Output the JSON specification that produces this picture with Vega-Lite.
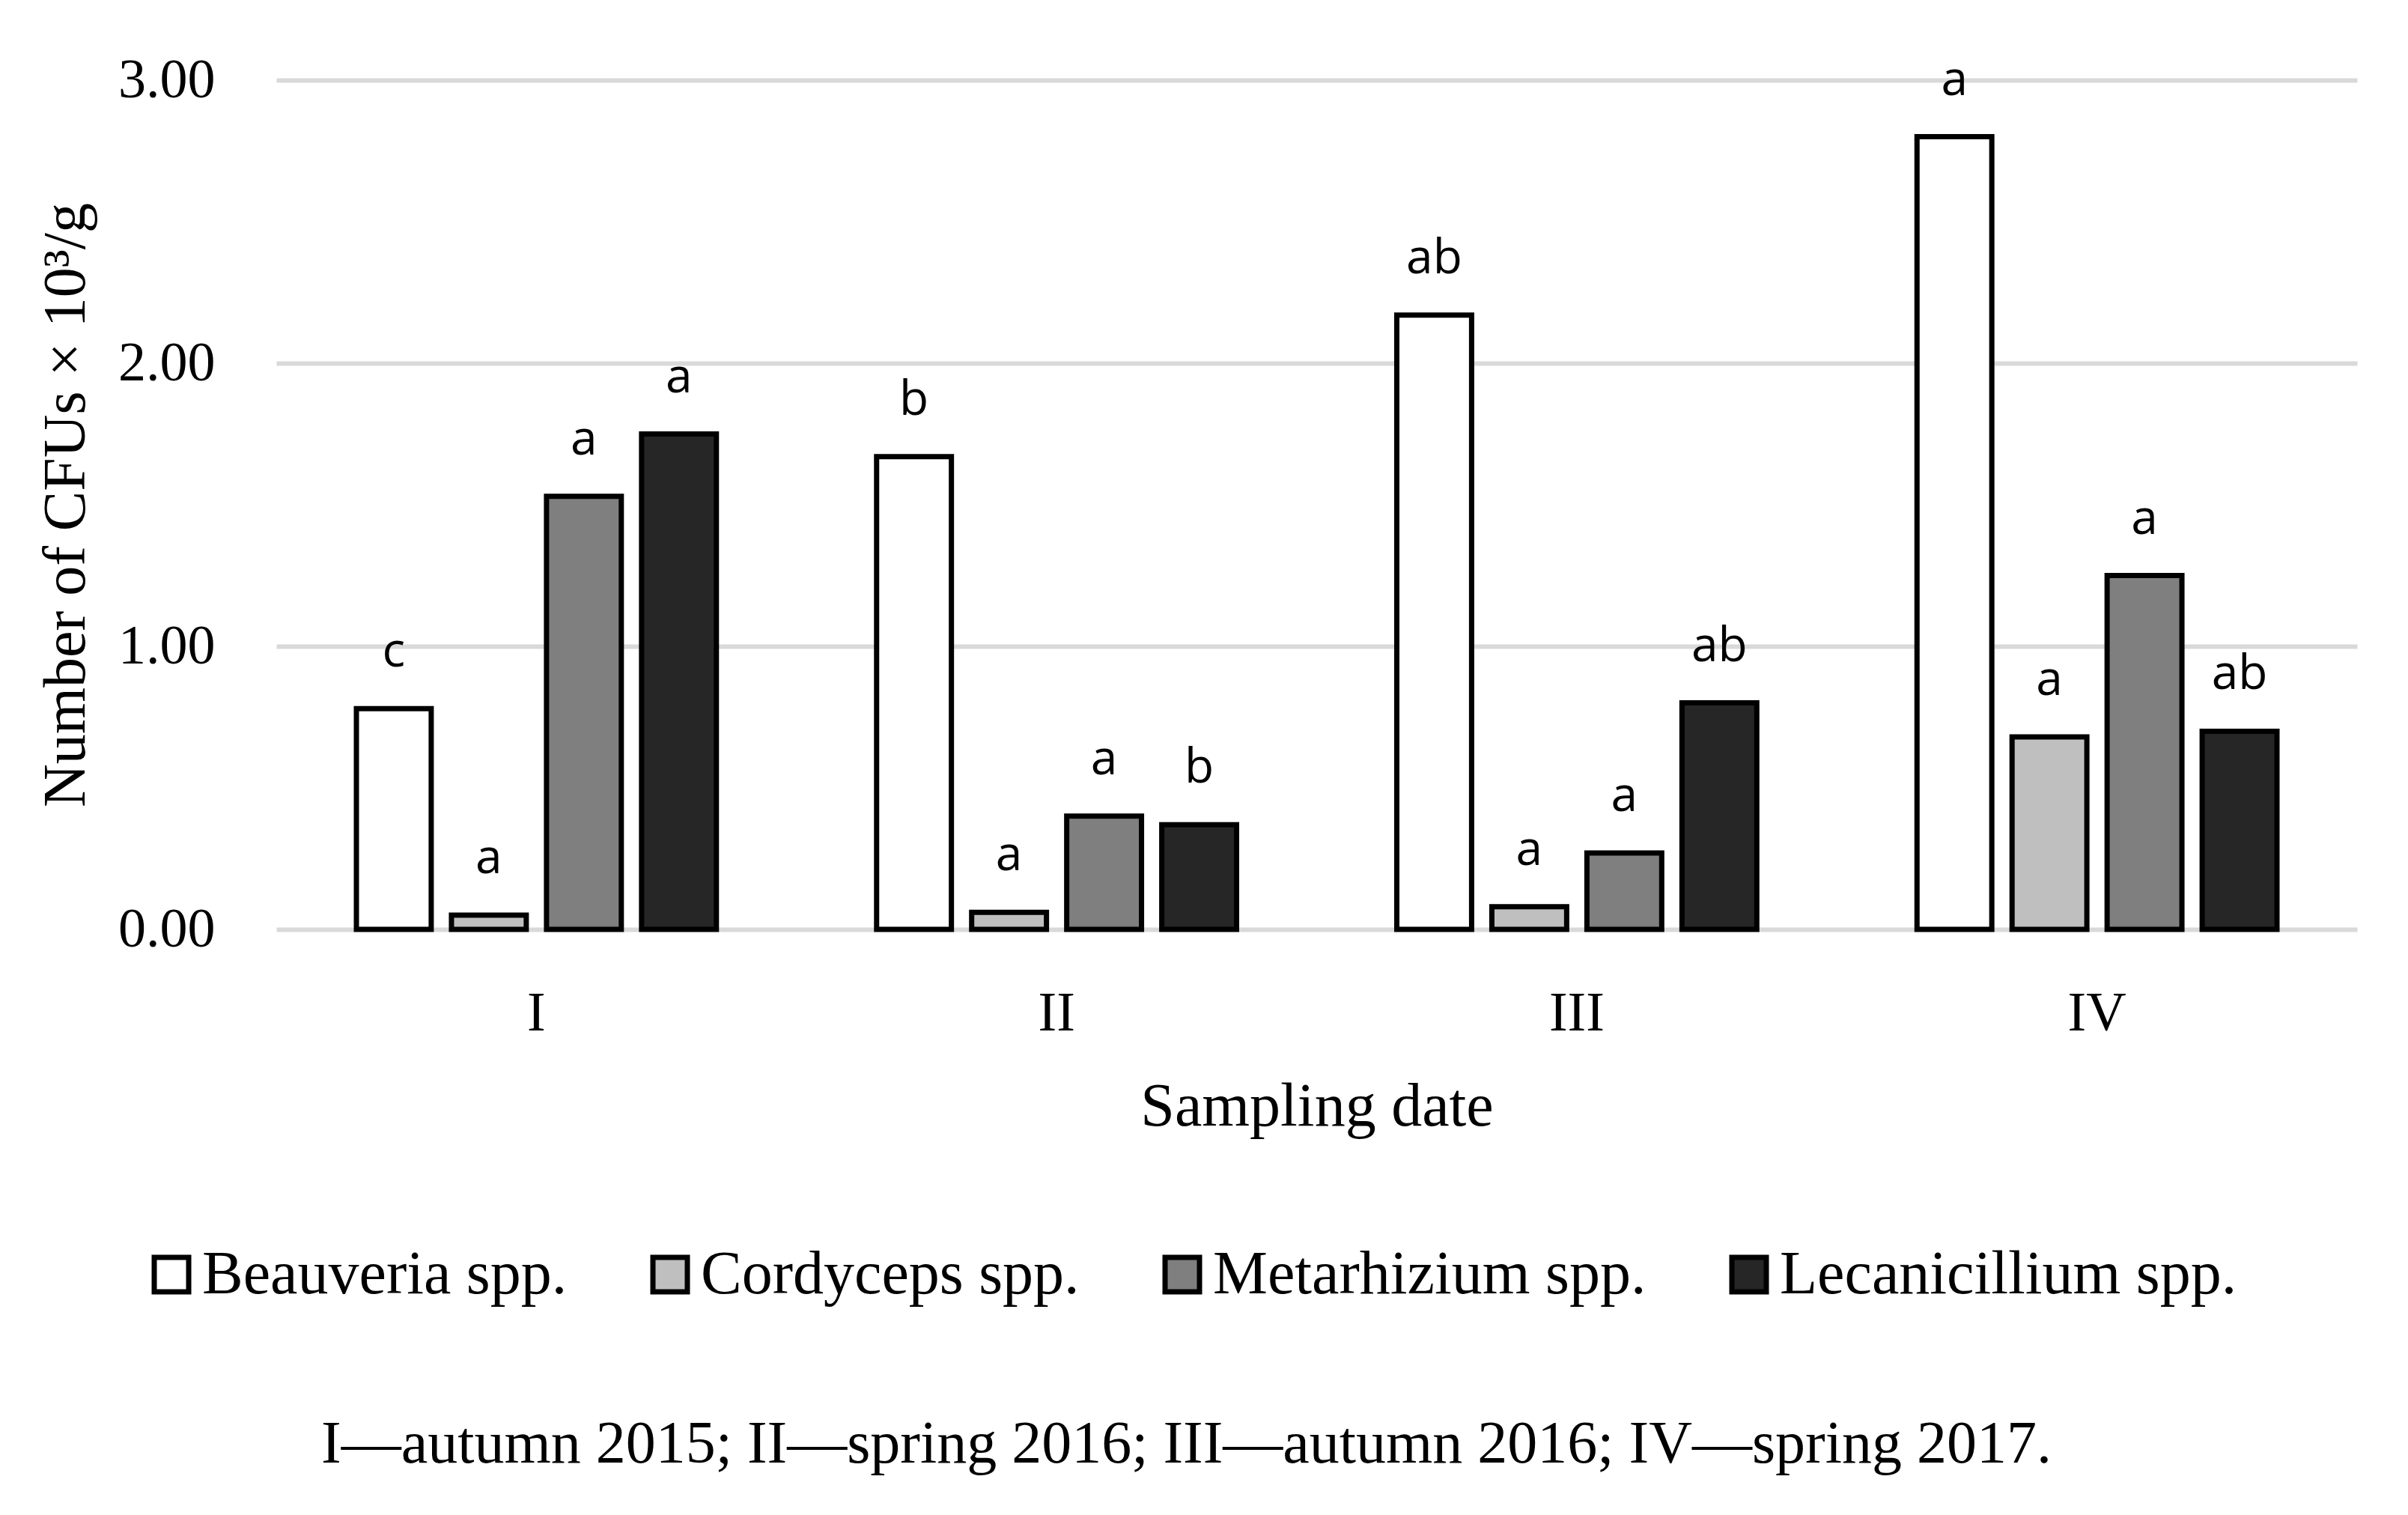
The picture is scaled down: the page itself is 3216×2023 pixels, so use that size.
{
  "$schema": "https://vega.github.io/schema/vega-lite/v6.json",
  "autosize": {"type": "none"},
  "width": 2779,
  "height": 1134,
  "padding": {"left": 369, "top": 107, "right": 68, "bottom": 782},
  "background": "white",
  "title": {
    "text": "I\u2014autumn 2015; II\u2014spring 2016; III\u2014autumn 2016; IV\u2014spring 2017.",
    "orient": "bottom",
    "anchor": "middle",
    "frame": "group",
    "dx": -174,
    "offset": 210,
    "baseline": "alphabetic",
    "font": "Liberation Serif",
    "fontSize": 80,
    "fontWeight": "normal",
    "color": "black"
  },
  "data": {
    "values": [
      {"date": "I", "genus": "Beauveria spp.", "cfu": 0.78, "letter": "c"},
      {"date": "I", "genus": "Cordyceps spp.", "cfu": 0.05, "letter": "a"},
      {"date": "I", "genus": "Metarhizium spp.", "cfu": 1.53, "letter": "a"},
      {"date": "I", "genus": "Lecanicillium spp.", "cfu": 1.75, "letter": "a"},
      {"date": "II", "genus": "Beauveria spp.", "cfu": 1.67, "letter": "b"},
      {"date": "II", "genus": "Cordyceps spp.", "cfu": 0.06, "letter": "a"},
      {"date": "II", "genus": "Metarhizium spp.", "cfu": 0.40, "letter": "a"},
      {"date": "II", "genus": "Lecanicillium spp.", "cfu": 0.37, "letter": "b"},
      {"date": "III", "genus": "Beauveria spp.", "cfu": 2.17, "letter": "ab"},
      {"date": "III", "genus": "Cordyceps spp.", "cfu": 0.08, "letter": "a"},
      {"date": "III", "genus": "Metarhizium spp.", "cfu": 0.27, "letter": "a"},
      {"date": "III", "genus": "Lecanicillium spp.", "cfu": 0.80, "letter": "ab"},
      {"date": "IV", "genus": "Beauveria spp.", "cfu": 2.80, "letter": "a"},
      {"date": "IV", "genus": "Cordyceps spp.", "cfu": 0.68, "letter": "a"},
      {"date": "IV", "genus": "Metarhizium spp.", "cfu": 1.25, "letter": "a"},
      {"date": "IV", "genus": "Lecanicillium spp.", "cfu": 0.70, "letter": "ab"}
    ]
  },
  "encoding": {
    "x": {
      "field": "date",
      "type": "nominal",
      "sort": ["I", "II", "III", "IV"],
      "scale": {"paddingInner": 0.308, "paddingOuter": 0.154},
      "axis": {
        "title": "Sampling date",
        "labelAngle": 0,
        "grid": false,
        "domain": false,
        "ticks": false,
        "tickSize": 0,
        "labelPadding": 76,
        "labelFont": "Liberation Serif",
        "labelFontSize": 74,
        "labelColor": "black",
        "titleFont": "Liberation Serif",
        "titleFontSize": 82,
        "titleFontWeight": "normal",
        "titleColor": "black",
        "titleBaseline": "alphabetic",
        "titleY": 261
      }
    },
    "xOffset": {
      "field": "genus",
      "type": "nominal",
      "sort": ["Beauveria spp.", "Cordyceps spp.", "Metarhizium spp.", "Lecanicillium spp."],
      "scale": {"paddingInner": 0.213, "paddingOuter": 0}
    },
    "y": {
      "field": "cfu",
      "type": "quantitative",
      "scale": {"domain": [0, 3], "nice": false, "zero": true},
      "axis": {
        "title": "Number of CFUs \u00d7 10\u00b3/g",
        "values": [0, 1, 2, 3],
        "format": ".2f",
        "domain": false,
        "ticks": false,
        "tickSize": 0,
        "grid": true,
        "gridColor": "#d9d9d9",
        "gridWidth": 6,
        "labelPadding": 82,
        "labelFont": "Liberation Serif",
        "labelFontSize": 74,
        "labelColor": "black",
        "titleFont": "Liberation Serif",
        "titleFontSize": 80,
        "titleFontWeight": "normal",
        "titleColor": "black",
        "titleBaseline": "alphabetic",
        "titleAlign": "center",
        "titleAngle": -90,
        "titleX": -257,
        "titleY": 567
      }
    }
  },
  "layer": [
    {
      "mark": {"type": "bar", "stroke": "black", "strokeWidth": 7},
      "encoding": {
        "fill": {
          "field": "genus",
          "type": "nominal",
          "scale": {
            "domain": ["Beauveria spp.", "Cordyceps spp.", "Metarhizium spp.", "Lecanicillium spp."],
            "range": ["#ffffff", "#bfbfbf", "#7f7f7f", "#262626"]
          },
          "legend": {
            "title": null,
            "orient": "none",
            "direction": "horizontal",
            "columns": 4,
            "legendX": -181,
            "legendY": 1554,
            "padding": 0,
            "symbolType": "square",
            "symbolSize": 2116,
            "symbolStrokeColor": "black",
            "symbolStrokeWidth": 7,
            "labelFont": "Liberation Serif",
            "labelFontSize": 82,
            "labelColor": "black",
            "labelOffset": 0,
            "labelLimit": 2000,
            "columnPadding": 96,
            "encode": {
              "symbols": {"update": {"stroke": {"value": "black"}, "strokeWidth": {"value": 7}}}
            }
          }
        }
      }
    },
    {
      "mark": {
        "type": "text",
        "font": "Open Sans",
        "fontSize": 64,
        "color": "black",
        "baseline": "alphabetic",
        "align": "center",
        "dy": -56
      },
      "encoding": {
        "text": {"field": "letter", "type": "nominal"}
      }
    }
  ],
  "config": {
    "view": {"stroke": null}
  }
}
